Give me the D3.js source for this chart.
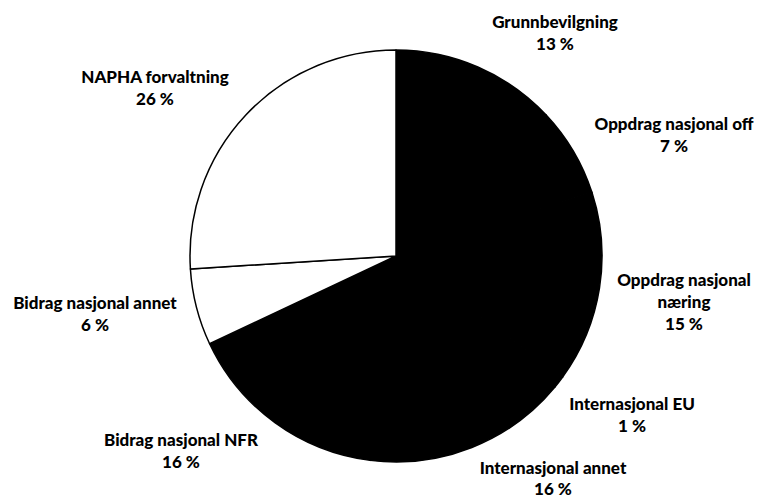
<!DOCTYPE html>
<html><head><meta charset="utf-8">
<script src="https://cdn.jsdelivr.net/npm/d3@7"></script>
<style>html,body{margin:0;padding:0;background:#fff;}svg{display:block;}</style>
</head><body>
<svg id="chart" width="758" height="499"></svg>
<script>
const categories = ["Grunnbevilgning","Oppdrag nasjonal off","Oppdrag nasjonal næring","Internasjonal EU","Internasjonal annet","Bidrag nasjonal NFR","Bidrag nasjonal annet","NAPHA forvaltning"];
const values = [13, 7, 15, 1, 16, 16, 6, 26];
const labelLines = [["Grunnbevilgning"],["Oppdrag nasjonal off"],["Oppdrag nasjonal","næring"],["Internasjonal EU"],["Internasjonal annet"],["Bidrag nasjonal NFR"],["Bidrag nasjonal annet"],["NAPHA forvaltning"]];
const fills = ["#000","#000","#000","#000","#000","#000","#fff","#fff"];
// label anchors (center x, first baseline y)
const labelAnchor = [[555,28],[674,130],[684,286],[632,410],[553,474],[181,446],[95,309],[155,83]];

const svg = d3.select("#chart");
const cx = 396, cy = 256, r = 206;
const pie = d3.pie().sort(null).value(d => d)(values);
const arc = d3.arc().innerRadius(0).outerRadius(r);
const g = svg.append("g").attr("transform", `translate(${cx},${cy})`);
g.selectAll("path").data(pie).join("path")
  .attr("d", arc)
  .attr("fill", (d,i) => fills[i])
  .attr("stroke", "#000")
  .attr("stroke-width", 1.5)
  .attr("stroke-linejoin", "round");

const lh = 22;
categories.forEach((c,i) => {
  const [x,y] = labelAnchor[i];
  const t = svg.append("text").attr("x", x).attr("y", y)
    .attr("text-anchor","middle")
    .style("font-family","Lato, 'Open Sans', sans-serif")
    .style("font-weight","900").style("font-size","17px").attr("fill","#000");
  const lines = labelLines[i].concat([values[i] + " %"]);
  lines.forEach((l,j) => t.append("tspan").attr("x", x).attr("y", y + j*(i === 4 ? 21 : lh)).text(l));
});
</script>
</body></html>
